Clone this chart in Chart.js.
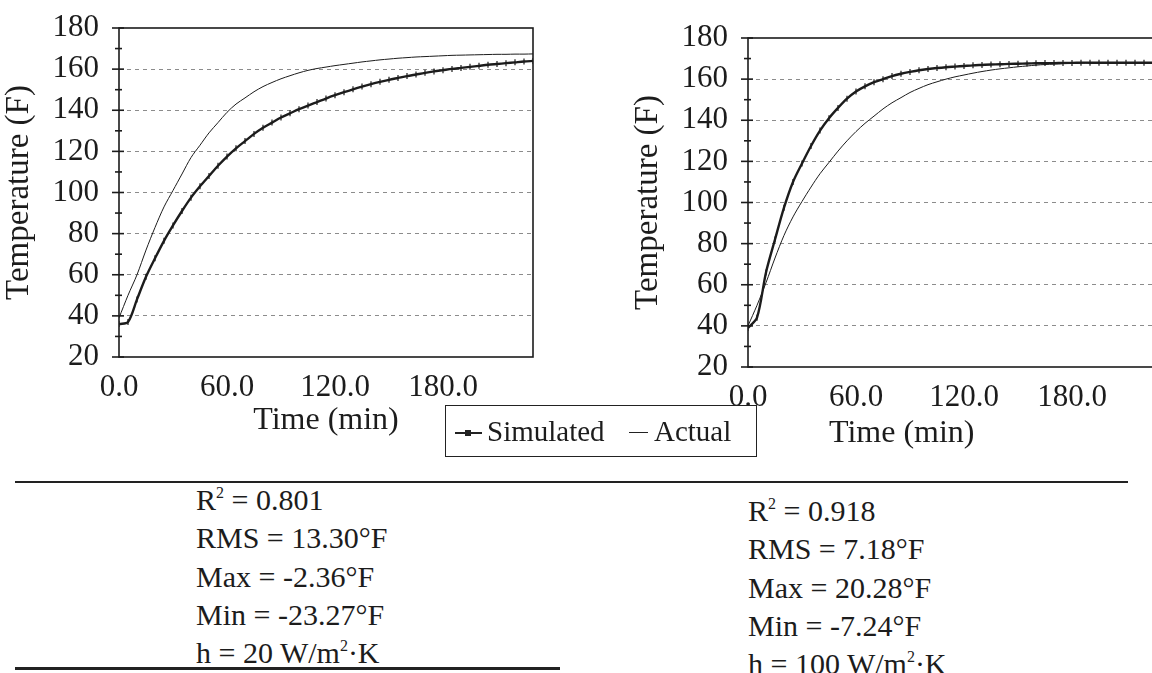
<!DOCTYPE html>
<html>
<head>
<meta charset="utf-8">
<script src="https://cdn.jsdelivr.net/npm/chart.js@4.4.0/dist/chart.umd.min.js"></script>
<style>
  html, body { margin: 0; padding: 0; background: #fff; }
  body { width: 1152px; height: 673px; overflow: hidden; position: relative;
         font-family: "Liberation Serif", "Times New Roman", serif; color: #1c1c1c; }
  .chart-box { position: absolute; }
  #box-left  { left: 0;     top: 0;    width: 545px; height: 440px; }
  #box-right { left: 629px; top: 10px; width: 545px; height: 440px; }
  .xtitle { position: absolute; font-size: 32px; line-height: 32px; white-space: nowrap; }
  .legend { position: absolute; left: 445px; top: 405px; width: 312px; height: 52px;
            border: 1.5px solid #222; box-sizing: border-box; font-size: 29px; }
  .legend .txt { position: absolute; top: 9px; line-height: 32px; white-space: nowrap; }
  .mk { position: absolute; top: 26px; height: 2px; background: #222; }
  .mk.sim::after { content: ""; position: absolute; left: 10px; top: -2px; width: 6px; height: 6px; background: #222; }
  .mk.act { height: 1px; }
  .rule { position: absolute; background: #222; }
  .stats { position: absolute; font-size: 30px; line-height: 38.3px; white-space: nowrap; }
  .stats sup { font-size: 16px; vertical-align: 12px; line-height: 0; }
</style>
</head>
<body>
<div class="chart-box" id="box-left"><canvas id="chart-left"></canvas></div>
<div class="chart-box" id="box-right"><canvas id="chart-right"></canvas></div>
<div class="xtitle" style="left:829px; top:415px;">Time (min)</div>

<div class="legend">
  <span class="mk sim" style="left:9px; width:27px;"></span>
  <span class="txt" style="left:41px;">Simulated</span>
  <span class="mk act" style="left:183px; width:19px;"></span>
  <span class="txt" style="left:208px;">Actual</span>
</div>

<div class="rule" style="left:15px; top:481px; width:1113px; height:2px;"></div>
<div class="rule" style="left:15px; top:667px; width:545px; height:3px;"></div>

<div class="stats" style="left:196px; top:481px;">
  <div>R<sup>2</sup> = 0.801</div>
  <div>RMS = 13.30°F</div>
  <div>Max = -2.36°F</div>
  <div>Min = -23.27°F</div>
  <div>h = 20 W/m<sup>2</sup>·K</div>
</div>
<div class="stats" style="left:748px; top:492px;">
  <div>R<sup>2</sup> = 0.918</div>
  <div>RMS = 7.18°F</div>
  <div>Max = 20.28°F</div>
  <div>Min = -7.24°F</div>
  <div>h = 100 W/m<sup>2</sup>·K</div>
</div>

<script>
// time axis (min), every 5 minutes
const minutes = [0, 5, 10, 15, 20, 25, 30, 35, 40, 45, 50, 55, 60, 65, 70, 75, 80, 85, 90, 95,
  100, 105, 110, 115, 120, 125, 130, 135, 140, 145, 150, 155, 160, 165, 170, 175, 180, 185,
  190, 195, 200, 205, 210, 215, 220, 225, 230];

// left panel, h = 20 W/m2K
const leftSimulated = [36, 37, 48, 59, 68, 76.5, 84, 91, 97.5, 103, 108, 113, 117.5, 121.5, 125,
  128.5, 131.5, 134, 136.5, 138.5, 140.5, 142.3, 144, 145.7, 147.3, 148.8, 150.2, 151.5, 152.7,
  153.8, 154.8, 155.7, 156.6, 157.4, 158.2, 158.9, 159.5, 160.1, 160.6, 161.1, 161.6, 162.1,
  162.5, 162.9, 163.3, 163.7, 164];
const leftActual = [39, 50, 60, 72, 83, 93, 101, 109, 117, 123, 129, 134, 139, 143, 146, 149,
  151.5, 153.5, 155.3, 156.8, 158.2, 159.4, 160.3, 161, 161.7, 162.3, 162.9, 163.5, 164, 164.5,
  164.9, 165.3, 165.6, 165.9, 166.1, 166.3, 166.5, 166.7, 166.8, 166.9, 167, 167.1, 167.2,
  167.2, 167.3, 167.3, 167.4];

// right panel, h = 100 W/m2K
const rightSimulated = [39, 44, 66, 82, 97.5, 110, 119, 127.5, 135, 141, 146, 150.5, 154, 156.5,
  158.5, 160, 161.5, 162.6, 163.5, 164.3, 164.9, 165.4, 165.8, 166.1, 166.4, 166.7, 166.9, 167.1,
  167.2, 167.4, 167.5, 167.6, 167.7, 167.8, 167.8, 167.9, 167.9, 168, 168, 168, 168, 168, 168,
  168, 168, 168, 168];
const rightActual = [40, 50, 61, 73, 84, 93, 100.5, 107.5, 114, 119.5, 125, 130, 134.5, 138.5,
  142, 145.5, 148.5, 151, 153.5, 155.5, 157.3, 158.7, 160, 161.1, 162, 162.9, 163.7, 164.4, 165,
  165.5, 166, 166.4, 166.8, 167.1, 167.3, 167.5, 167.6, 167.7, 167.8, 167.9, 167.9, 168, 168,
  168, 168, 168, 168];

const xLabelTicks = [0, 60, 120, 180];
const tempMin = 20, tempMax = 180, timeMax = 230;

const INK = "#1c1c1c";
const FONT = "Liberation Serif";

function pts(ys){ return minutes.map((t, i) => ({ x: t, y: ys[i] })); }

// plot frame + y-axis tick crosses
const framePlugin = {
  id: "frame",
  afterDatasetsDraw(chart){
    const { ctx, chartArea: a, scales: { y } } = chart;
    ctx.save();
    ctx.strokeStyle = INK;
    ctx.lineWidth = 1.6;
    ctx.strokeRect(a.left, a.top, a.right - a.left, a.bottom - a.top);
    y.ticks.forEach(t => {
      const py = y.getPixelForValue(t.value);
      const major = t.value % 20 === 0;
      ctx.beginPath();
      ctx.moveTo(a.left - (major ? 7 : 4), py);
      ctx.lineTo(a.left + (major ? 5 : 3), py);
      ctx.stroke();
    });
    ctx.restore();
  }
};

function makeChart(id, sim, act, showXTitle){
  return new Chart(document.getElementById(id), {
    type: "line",
    data: {
      datasets: [
        { label: "Simulated", data: pts(sim), borderColor: INK, borderWidth: 2.4,
          pointStyle: "line", pointRotation: 90, pointRadius: 3, pointBorderWidth: 1.2,
          pointBorderColor: INK, tension: 0.3 },
        { label: "Actual", data: pts(act), borderColor: INK, borderWidth: 1,
          pointRadius: 0, tension: 0.3 }
      ]
    },
    options: {
      responsive: true,
      maintainAspectRatio: false,
      animation: false,
      layout: { padding: { top: 28, right: 12, left: 0, bottom: 0 } },
      plugins: { legend: { display: false }, tooltip: { enabled: false } },
      scales: {
        x: {
          type: "linear", min: 0, max: timeMax,
          afterBuildTicks: s => { s.ticks = xLabelTicks.map(v => ({ value: v })); },
          ticks: { color: INK, font: { family: FONT, size: 31 }, padding: 4, maxRotation: 0,
                   autoSkip: false, callback: v => v.toFixed(1) },
          grid: { display: false },
          border: { display: false },
          title: { display: showXTitle, text: "Time (min)", color: INK,
                   font: { family: FONT, size: 32 }, padding: { top: 0, bottom: 0 } },
          afterFit: s => { s.height = 83; }
        },
        y: {
          min: tempMin, max: tempMax,
          ticks: { stepSize: 10, autoSkip: false, color: INK, font: { family: FONT, size: 31 },
                   padding: 20, callback: v => (v % 20 === 0 ? v : "") },
          grid: {
            drawTicks: false,
            lineWidth: 1,
            color: c => (c.tick && c.tick.value % 20 === 0 && c.tick.value > tempMin && c.tick.value < tempMax)
              ? "#8c8c8c" : "rgba(0,0,0,0)"
          },
          border: { display: false, dash: [4, 4] },
          title: { display: true, text: "Temperature (F)", color: INK,
                   font: { family: FONT, size: 33 }, padding: { top: 0, bottom: 0 } },
          afterFit: s => { s.width = 119; s.paddingTop = 0; s.paddingBottom = 0; }
        }
      }
    },
    plugins: [framePlugin]
  });
}

makeChart("chart-left", leftSimulated, leftActual, true);
makeChart("chart-right", rightSimulated, rightActual, false);
</script>
</body>
</html>
